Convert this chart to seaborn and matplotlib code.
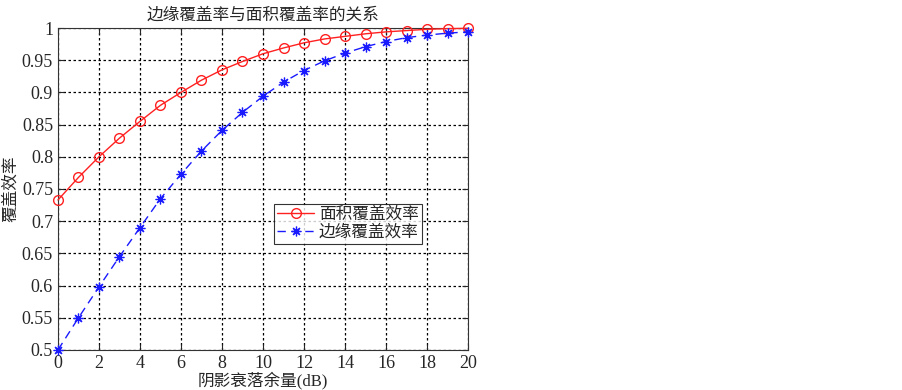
import numpy as np
import pandas as pd
import seaborn as sns
import matplotlib
matplotlib.use('Agg')
import matplotlib.pyplot as plt

margin_db = list(range(0, 21))
area_cov = [0.733, 0.768, 0.800, 0.829, 0.855, 0.880, 0.900, 0.919, 0.935, 0.948,
            0.960, 0.969, 0.977, 0.983, 0.987, 0.991, 0.994, 0.996, 0.998, 0.999, 0.9995]
edge_cov = [0.500, 0.550, 0.598, 0.645, 0.690, 0.735, 0.773, 0.809, 0.841, 0.869,
            0.894, 0.916, 0.934, 0.949, 0.961, 0.971, 0.979, 0.985, 0.989, 0.992, 0.994]
y_ticks = [0.5, 0.55, 0.6, 0.65, 0.7, 0.75, 0.8, 0.85, 0.9, 0.95, 1]
y_labels = ['0.5', '0.55', '0.6', '0.65', '0.7', '0.75', '0.8', '0.85', '0.9', '0.95', '1']
x_ticks = list(range(0, 21, 2))

sns.set_style('ticks')
plt.rcParams['font.family'] = ['Liberation Serif', 'Noto Sans CJK SC']
plt.rcParams['font.size'] = 12

df = pd.DataFrame({'x': margin_db, 'area': area_cov, 'edge': edge_cov})

fig = plt.figure(figsize=(9.03, 3.9), dpi=100)
ax = fig.add_axes([0.0642, 0.1026, 0.4541, 0.8256])

# matlab style asterisk marker
ast = (8, 2, 0)

sns.lineplot(data=df, x='x', y='area', ax=ax, color='#ff2020', lw=1,
             marker='o', markersize=7, markerfacecolor='none',
             markeredgecolor='#ff2020', markeredgewidth=1, label='面积覆盖效率',
             clip_on=False, zorder=5)
sns.lineplot(data=df, x='x', y='edge', ax=ax, color='#1a1aff', lw=1,
             marker=ast, markersize=7, markeredgecolor='#1a1aff',
             markeredgewidth=0.9, label='边缘覆盖效率', clip_on=False, zorder=5)
ax.lines[1].set_dashes([6, 4])

ax.set_xlim(0, 20)
ax.set_ylim(0.5, 1)
ax.set_xticks(x_ticks)
ax.set_yticks(y_ticks)
ax.set_yticklabels(y_labels)
ax.grid(True, color='black', linestyle=(0, (2, 2)), linewidth=0.9)
ax.tick_params(direction='in', length=4, labelsize=13, top=True, right=True,
               labeltop=False, labelright=False)
for s in ax.spines.values():
    s.set_color('#333333')
    s.set_linewidth(0.8)

ax.set_title('边缘覆盖率与面积覆盖率的关系', fontsize=12, pad=6)
ax.set_xlabel('阴影衰落余量(dB)', fontsize=12, labelpad=0)
ax.set_ylabel('覆盖效率', fontsize=12, labelpad=2)

leg = ax.legend(loc='lower left', bbox_to_anchor=(0.527, 0.329), fontsize=12,
                frameon=True, fancybox=False, edgecolor='black',
                borderpad=0.2, labelspacing=0.1, handlelength=2.2,
                handletextpad=0.3, borderaxespad=0)
leg.get_frame().set_linewidth(0.8)
leg.set_zorder(10)

fig.savefig('out.png', dpi=100)
